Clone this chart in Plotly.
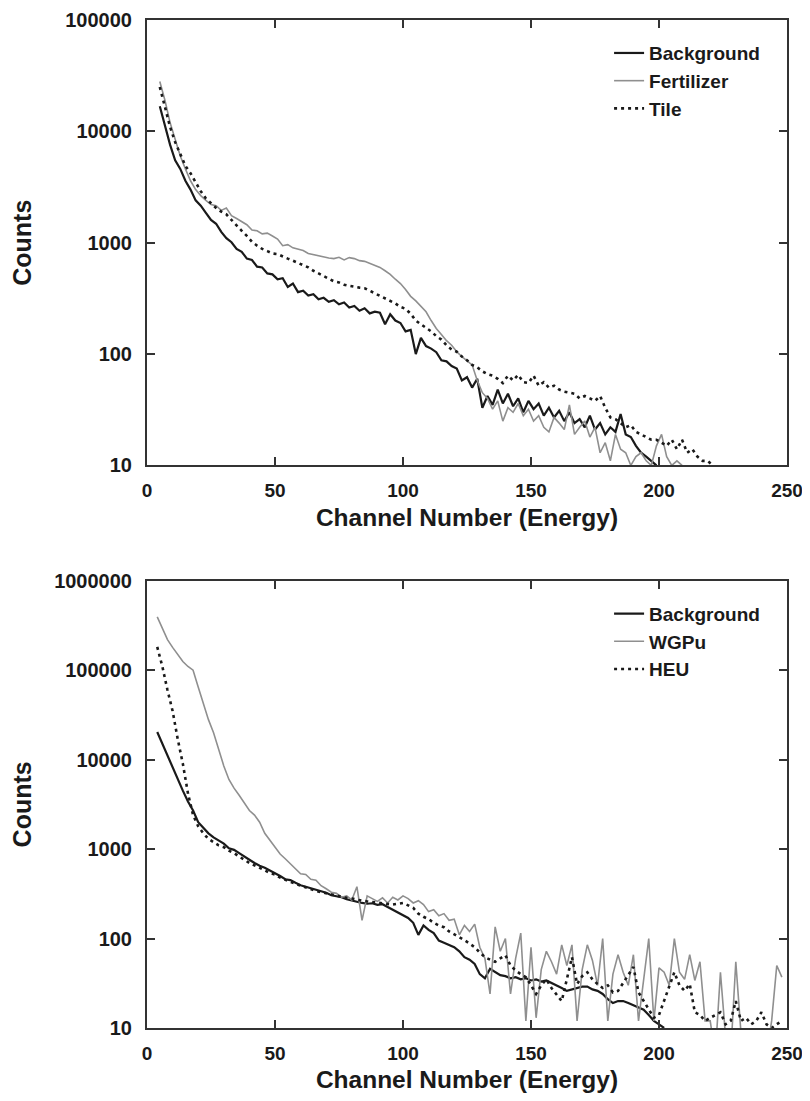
import plotly.graph_objects as go

# ---------------- data: top panel (channels, step 2) ----------------
top_x0 = 5
top_background = [16800, 11000, 7600, 5500, 4600, 3600, 3000, 2400, 2150, 1850,
                  1600, 1480, 1250, 1100, 1010, 880, 830, 720, 700, 610,
                  600, 530, 520, 470, 480, 400, 430, 360, 370, 335,
                  345, 310, 320, 295, 305, 280, 290, 262, 270, 245,
                  258, 232, 240, 235, 185, 228, 200, 190, 160, 165,
                  100, 140, 118, 112, 104, 88, 86, 78, 74, 58,
                  62, 50, 60, 33, 42, 35, 48, 36, 44, 34,
                  40, 30, 38, 32, 36, 28, 33, 27, 31, 25,
                  30, 24, 26, 22, 28, 21, 24, 19, 22, 20,
                  29, 19, 18, 15, 13, 12, 11, 10]
top_fertilizer = [28000, 19000, 12000, 8500, 6000, 4600, 3600, 3000, 2650, 2400,
                  2200, 2150, 1950, 2050, 1750, 1650, 1550, 1450, 1300, 1280,
                  1200, 1220, 1150, 1080, 940, 960, 900, 870, 850, 800,
                  780, 760, 745, 730, 720, 740, 700, 735, 720, 690,
                  680, 650, 630, 600, 560, 520, 470, 430, 380, 330,
                  300, 270, 240, 200, 170, 150, 132, 120, 105, 95,
                  88, 80, 58, 45, 40, 32, 38, 25, 33, 30,
                  36, 28, 32, 25, 28, 22, 20, 27, 24, 21,
                  35, 19, 22, 25, 18, 22, 13, 16, 11, 19,
                  14, 13, 10, 12, 13, 11, 10, 15, 19, 12,
                  10, 11, 10]
top_tile = [25000, 17000, 11000, 8000, 6200, 4900, 4200, 3500, 2900, 2500,
            2250, 2050, 1900, 1800, 1600, 1420, 1280, 1150, 1020, 940,
            880, 840, 800, 790, 760, 720, 690, 660, 630, 600,
            560, 530, 500, 470, 450, 440, 420, 410, 400, 395,
            390, 370, 350, 335, 320, 300, 285, 265, 255, 230,
            200, 185, 172, 160, 145, 135, 120, 110, 105, 95,
            88, 80, 76, 70, 66, 64, 60, 55, 64, 58,
            65, 56, 55, 64, 52, 56, 50, 52, 48, 46,
            45, 44, 40, 42, 40, 38, 42, 33, 27, 26,
            24, 22, 23, 20, 19, 18, 17, 17, 16, 15,
            17, 14, 17, 13, 14, 12, 11, 11, 10]

# ---------------- data: bottom panel (channels, step 2) ----------------
bot_x0 = 4
bot_background = [20400, 15000, 11500, 8500, 6200, 4500, 3400, 2700, 2000, 1750,
                  1500, 1350, 1250, 1150, 1020, 980, 900, 820, 760, 700,
                  650, 620, 580, 545, 500, 460, 450, 420, 395, 380,
                  365, 350, 335, 325, 305, 300, 290, 275, 265, 260,
                  250, 245, 248, 238, 242, 225, 210, 195, 180, 170,
                  150, 110, 140, 125, 115, 95, 90, 84, 80, 72,
                  62, 58, 52, 40, 36, 46, 42, 39, 38, 36,
                  37, 35, 36, 34, 35, 33, 34, 32, 30, 28,
                  26, 27, 28, 29, 29, 27, 26, 24, 21, 19,
                  20, 20, 19, 18, 17, 16, 14, 12, 11, 10]
bot_wgpu = [394000, 300000, 220000, 180000, 150000, 125000, 110000, 100000, 65000, 42000,
            28000, 20000, 13000, 8500, 6000, 4800, 4000, 3300, 2700, 2400,
            2000, 1500, 1250, 1050, 880, 780, 690, 600, 530, 520,
            460, 450, 390, 360, 330, 320, 290, 300, 270, 380,
            160, 300, 280, 260, 285, 250, 290, 270, 300, 280,
            250, 265, 240, 200, 210, 180, 190, 160, 165, 110,
            140, 120, 145, 80, 60, 24, 135, 72, 100, 24,
            60, 115, 12, 80, 13, 45, 72, 55, 40, 85,
            50, 85, 12, 45, 85, 57, 30, 100, 12, 40,
            66, 42, 30, 66, 12, 35, 100, 12, 47, 42,
            30, 100, 42, 35, 66, 34, 55, 12, 12, 5,
            42, 8, 5, 55, 9, 5, 5, 5, 5, 5,
            12, 50, 37]
bot_heu = [182000, 110000, 60000, 35000, 17000, 9000, 4200, 2400, 1800, 1500,
           1300, 1200, 1100, 1050, 960, 900, 820, 760, 700, 660,
           620, 580, 540, 520, 480, 450, 430, 410, 390, 370,
           355, 340, 330, 320, 310, 300, 290, 285, 280, 275,
           265, 260, 255, 250, 250, 245, 240, 245, 250, 235,
           220, 190, 175, 165, 150, 140, 134, 120, 112, 104,
           96, 88, 80, 70, 62, 58, 55, 60, 65, 50,
           44, 40, 37, 30, 24, 30, 35, 28, 24, 20,
           35, 62, 31, 38, 42, 35, 31, 28, 30, 25,
           26, 32, 40, 48, 25, 20, 16, 13, 14, 20,
           30, 42, 30, 26, 31, 15, 14, 12, 13, 14,
           15, 11, 12, 20, 12, 13, 11, 12, 15, 11,
           10, 11, 12]

x_ticks = [0, 50, 100, 150, 200, 250]
top_y_ticks = [10, 100, 1000, 10000, 100000]
bot_y_ticks = [10, 100, 1000, 10000, 100000, 1000000]


def chans(x0, step, n):
    return [x0 + step * i for i in range(n)]


FONT = "Liberation Sans, Arial, Helvetica, sans-serif"
INK = "#1a1a1a"
GRAY = "#8f8f8f"

fig = go.Figure()

series = [
    ("Background", top_background, top_x0, dict(color=INK, width=2.2), "x", "y", "legend"),
    ("Fertilizer", top_fertilizer, top_x0, dict(color=GRAY, width=1.6), "x", "y", "legend"),
    ("Tile", top_tile, top_x0, dict(color=INK, width=2.6, dash="3px,4px"), "x", "y", "legend"),
    ("Background", bot_background, bot_x0, dict(color=INK, width=2.2), "x2", "y2", "legend2"),
    ("WGPu", bot_wgpu, bot_x0, dict(color=GRAY, width=1.6), "x2", "y2", "legend2"),
    ("HEU", bot_heu, bot_x0, dict(color=INK, width=2.6, dash="3px,4px"), "x2", "y2", "legend2"),
]
for name, vals, x0, line, xa, ya, lg in series:
    fig.add_trace(go.Scatter(x=chans(x0, 2, len(vals)), y=vals, mode="lines", name=name,
                             line=line, xaxis=xa, yaxis=ya, legend=lg))

tickfont = dict(family=FONT, size=19, color=INK, weight="bold")
titlefont = dict(family=FONT, size=24.5, color=INK, weight="bold")

common_x = dict(range=[0, 250], tickvals=x_ticks, ticktext=[str(v) for v in x_ticks],
                ticks="inside", ticklen=8, tickwidth=1.5, tickcolor="#333",
                showline=True, linewidth=2, linecolor="#333", mirror="ticks",
                showgrid=False, zeroline=False, tickfont=tickfont, automargin=False,
                ticklabelstandoff=7, ticklabeloverflow="allow",
                title=dict(text="Channel Number (Energy)", font=titlefont, standoff=9))


def ylog(rng, vals, standoff):
    return dict(type="log", range=rng, tickvals=vals, ticktext=[str(v) for v in vals],
                ticks="inside", ticklen=8, tickwidth=1.5, tickcolor="#333",
                showline=True, linewidth=2, linecolor="#333", mirror="ticks",
                showgrid=False, zeroline=False, automargin=False, ticklabelstandoff=9,
                ticklabeloverflow="allow",
                tickfont=dict(family=FONT, size=20, color=INK, weight="bold"),
                title=dict(text="Counts", font=dict(family=FONT, size=25, color=INK, weight="bold"),
                           standoff=standoff))


# page body has an 8px margin, so the figure is offset by 8px in the window
fig.update_layout(
    width=800, height=1085,
    margin=dict(l=139, r=21, t=12, b=65.3),
    paper_bgcolor="white", plot_bgcolor="white",
    xaxis=dict(domain=[0, 1], anchor="y", **common_x),
    yaxis=dict(domain=[0.5581, 1], anchor="x", **ylog([1, 5], top_y_ticks, 30)),
    xaxis2=dict(domain=[0, 1], anchor="y2", **common_x),
    yaxis2=dict(domain=[0, 0.4437], anchor="x2", **ylog([1, 6], bot_y_ticks, 19)),
    legend=dict(x=0.722, y=0.986, xanchor="left", yanchor="top", bgcolor="rgba(0,0,0,0)",
                font=dict(family=FONT, size=19, color=INK, weight="bold"), tracegroupgap=0),
    legend2=dict(x=0.722, y=0.4298, xanchor="left", yanchor="top", bgcolor="rgba(0,0,0,0)",
                 font=dict(family=FONT, size=19, color=INK, weight="bold"), tracegroupgap=0),
    showlegend=True,
)

fig.write_html("out.html")
